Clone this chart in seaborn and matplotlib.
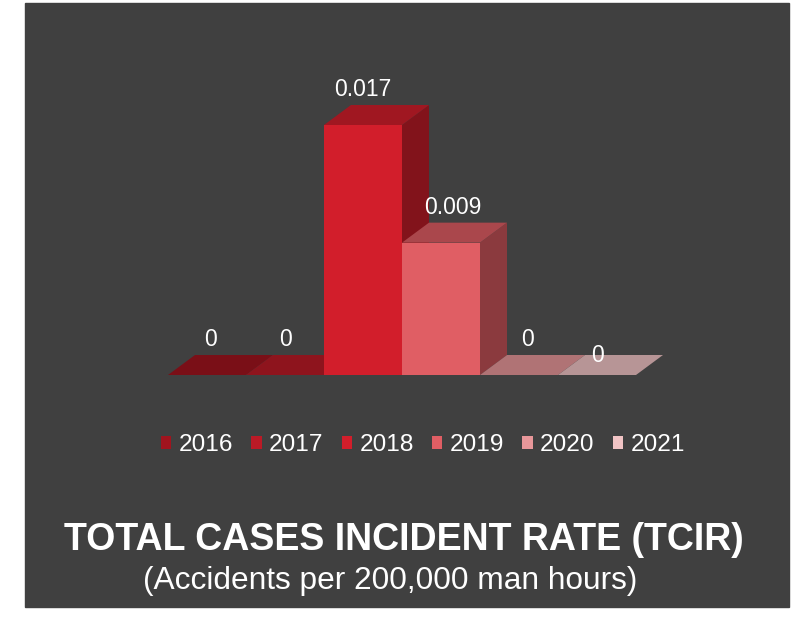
import matplotlib

matplotlib.use("Agg")
import matplotlib.pyplot as plt
import numpy as np
import pandas as pd
import seaborn as sns
from matplotlib.patches import Patch, Polygon, Rectangle

# chart data
years = ["2016", "2017", "2018", "2019", "2020", "2021"]
rates = [0.0, 0.0, 0.017, 0.009, 0.0, 0.0]
colors = ["#a0141e", "#bb1a26", "#d21e2b", "#e05e64", "#e8979a", "#f1c4c5"]
title = "TOTAL CASES INCIDENT RATE (TCIR)"
subtitle = "(Accidents per 200,000 man hours)"

# label nudges in pixels (style only)
label_nudge_x = [4, 1, 0, 12, 8, 1]
label_nudge_y = [0, 0, 0, 0, 0, -16]

W, H = 797, 617
BG = "#404040"


def shade(c, f):
    r, g, b, a = matplotlib.colors.to_rgba(c)
    return (r * f, g * f, b * f, 1)


def main():
    plt.rcParams["font.family"] = ["Liberation Sans", "DejaVu Sans"]

    df = pd.DataFrame({"panel": "TCIR", "year": years, "rate": rates})

    fig = plt.figure(figsize=(W / 100, H / 100), dpi=100)
    fig.patch.set_facecolor("white")
    fig.add_artist(
        Rectangle(
            (25 / W, 10 / H), 764 / W, 604 / H,
            transform=fig.transFigure, color=BG, zorder=0,
        )
    )

    ax = fig.add_axes([168 / W, 242 / H, 468 / W, 250 / H])
    sns.barplot(
        data=df, x="panel", y="rate", hue="year", hue_order=years,
        palette=colors, saturation=1, errorbar=None, legend=False,
        width=0.8, linewidth=0, ax=ax,
    )
    ax.set_xlim(-0.4, 0.4)
    ax.set_ylim(0, max(rates))
    ax.axis("off")

    # 3D depth offset, in data units
    p0 = ax.transData.transform((0, 0))
    dx, dy = ax.transData.inverted().transform(p0 + np.array([27, 20]))

    bars = sorted(ax.patches, key=lambda p: p.get_x())
    for i, bar in enumerate(bars):
        x, w, h = bar.get_x(), bar.get_width(), bar.get_height()
        fc = bar.get_facecolor()
        side = Polygon(
            [(x + w, 0), (x + w + dx, dy), (x + w + dx, h + dy), (x + w, h)],
            closed=True, facecolor=shade(fc, 0.62), edgecolor="none",
            zorder=2 + 3 * i, clip_on=False,
        )
        top = Polygon(
            [(x, h), (x + w, h), (x + w + dx, h + dy), (x + dx, h + dy)],
            closed=True, facecolor=shade(fc, 0.76), edgecolor="none",
            zorder=3 + 3 * i, clip_on=False,
        )
        ax.add_patch(side)
        ax.add_patch(top)
        bar.set_zorder(4 + 3 * i)
        bar.set_clip_on(False)

        ax.annotate(
            f"{rates[i]:g}", xy=(x + w / 2, h + dy),
            xytext=(label_nudge_x[i], 4 + label_nudge_y[i]),
            textcoords="offset pixels", ha="center", va="bottom",
            color="white", fontsize=16.5, zorder=40, annotation_clip=False,
        )

    handles = [Patch(facecolor=c, edgecolor="none") for c in colors]
    fig.legend(
        handles, years, loc="center", bbox_to_anchor=(423 / W, 1 - 445 / H),
        ncol=6, frameon=False, fontsize=17.6, labelcolor="white",
        handlelength=0.42, handleheight=0.42, handletextpad=0.3,
        columnspacing=0.75,
    )

    fig.text(404 / W, 1 - 540 / H, title, ha="center", va="center",
             fontsize=27, fontweight="bold", color="white")
    fig.text(390 / W, 1 - 581 / H, subtitle, ha="center", va="center",
             fontsize=22.8, color="white")

    fig.savefig("out.png", dpi=100, facecolor="white")


if __name__ == "__main__":
    main()
